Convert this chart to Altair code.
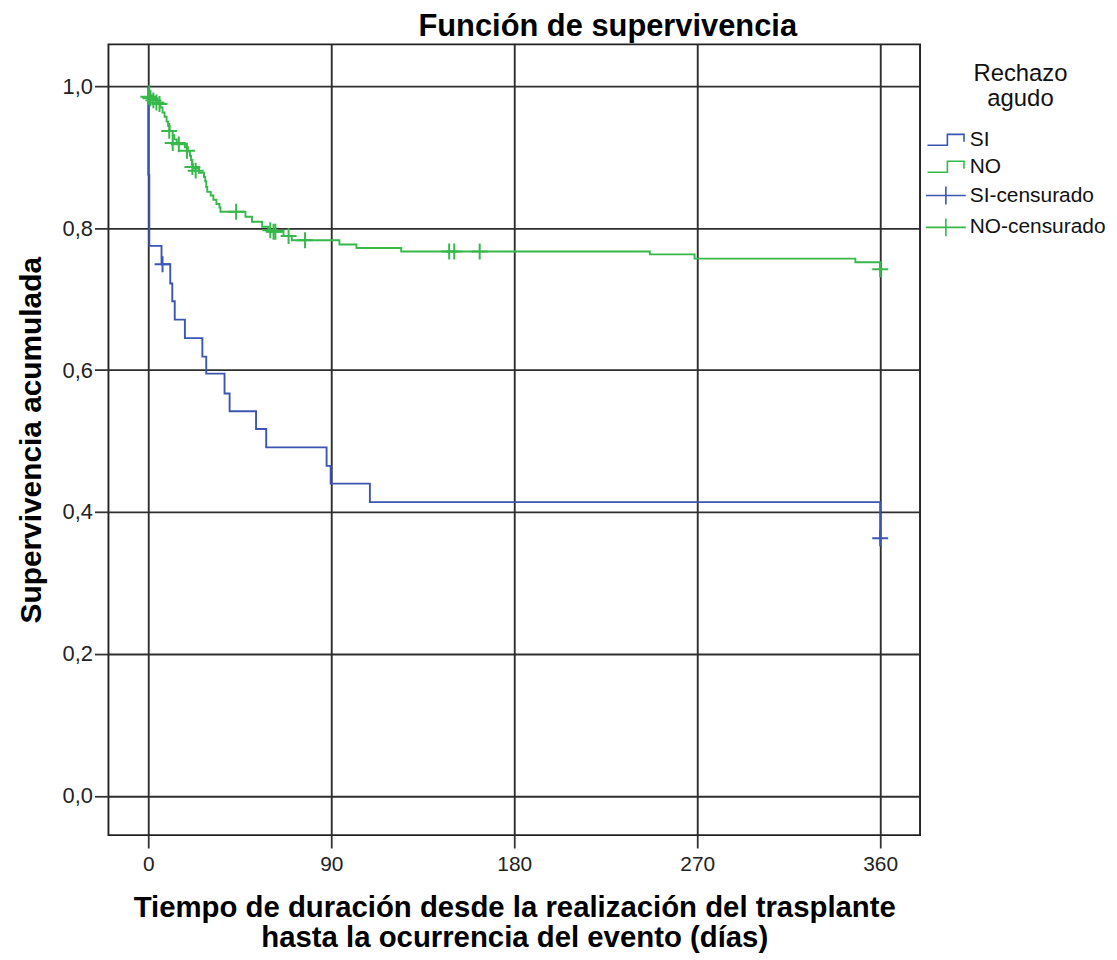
import altair as alt
import pandas as pd

BLUE = "#3b55b3"
GREEN = "#36b84b"
FONT = "Liberation Sans"

# ---- data ----
legend_items = ["SI", "NO", "SI-censurado", "NO-censurado"]

si_time = [0, 0, 0.5, 6.5, 10.8, 11.8, 13, 18, 26.6, 28.5, 37.5, 40, 53, 58, 87.7, 89.7, 109, 360]
si_surv = [1.0, 0.875, 0.775, 0.749, 0.722, 0.697, 0.671, 0.645, 0.619, 0.595, 0.567, 0.542,
           0.517, 0.491, 0.465, 0.440, 0.414, 0.363]

no_time = [0, 0.5, 1, 2, 4.5, 6, 7, 8, 9, 9.7, 10.5, 12, 12.8, 14, 18, 19.5, 20.5, 21, 21.5, 22,
           25, 27.4, 28, 28.5, 29, 30.7, 32, 33.5, 35, 35.5, 47.8, 51, 56, 59, 66.5, 70.6, 94,
           102.4, 124.4, 246.7, 268.7, 347.8, 360]
no_surv = [1.0, 0.993, 0.987, 0.982, 0.976, 0.970, 0.963, 0.957, 0.950, 0.944, 0.937, 0.931,
           0.925, 0.920, 0.914, 0.908, 0.902, 0.896, 0.890, 0.884, 0.878, 0.872, 0.866, 0.858,
           0.851, 0.846, 0.840, 0.834, 0.829, 0.823, 0.816, 0.809, 0.802, 0.796, 0.789, 0.783,
           0.777, 0.772, 0.767, 0.763, 0.757, 0.752, 0.742]

si_cens_time = [7, 360]
si_cens_surv = [0.749, 0.363]

no_cens_time = [0, 1, 2.5, 4, 5.5, 10.3, 12, 15, 19, 21.7, 23.3, 43.2, 60, 61.6, 62.5, 69, 77.1,
                148, 150.5, 163, 360]
no_cens_surv = [0.985, 0.983, 0.980, 0.977, 0.975, 0.937, 0.920, 0.918, 0.909, 0.886, 0.881,
                0.823, 0.797, 0.795, 0.795, 0.789, 0.783, 0.767, 0.767, 0.767, 0.742]

x_ticks = [0, 90, 180, 270, 360]
y_ticks = [0.0, 0.2, 0.4, 0.6, 0.8, 1.0]

# ---- tables ----
rows = []
for i, (t, s) in enumerate(zip(si_time, si_surv)):
    rows.append({"t": t, "s": s, "leg": "SI", "i": i})
for i, (t, s) in enumerate(zip(no_time, no_surv)):
    rows.append({"t": t, "s": s, "leg": "NO", "i": i})
lines_df = pd.DataFrame(rows)

prow = []
for t, s in zip(si_cens_time, si_cens_surv):
    prow.append({"t": t, "s": s, "leg": "SI-censurado"})
for t, s in zip(no_cens_time, no_cens_surv):
    prow.append({"t": t, "s": s, "leg": "NO-censurado"})
pts_df = pd.DataFrame(prow)

empty_df = pd.DataFrame({"t": pd.Series([], dtype=float), "s": pd.Series([], dtype=float),
                         "leg": pd.Series([], dtype=str)})

STEP = "M-1.85,0.55L0.15,0.55L0.15,-0.55L1.82,-0.55L1.82,0.2"
CROSS_LEG = "M-2,0L2,0M0,-0.9L0,0.9"
CROSS = "M-1,0L1,0M0,-1L0,1"

legend = alt.Legend(
    title=["Rechazo", "agudo"],
    orient="none",
    legendX=831,
    legendY=18,
    padding=0,
    titleFont=FONT,
    titleFontSize=24,
    titleFontWeight="normal",
    titleColor="#111",
    titleAnchor="middle",
    titleAlign="center",
    titleLineHeight=25,
    titlePadding=18,
    labelFont=FONT,
    labelFontSize=21,
    labelColor="#111",
    labelOffset=13,
    labelLimit=300,
    symbolSize=400,
    symbolStrokeWidth=1.6,
    symbolOpacity=1,
    symbolFillColor="transparent",
    rowPadding=6,
)

color = alt.Color(
    "leg:N",
    scale=alt.Scale(domain=legend_items, range=[BLUE, GREEN, BLUE, GREEN]),
    legend=legend,
)
shape = alt.Shape(
    "leg:N",
    scale=alt.Scale(domain=legend_items, range=[STEP, STEP, CROSS_LEG, CROSS_LEG]),
    legend=legend,
)

x = alt.X(
    "t:Q",
    scale=alt.Scale(domain=[-19.6, 379.6], nice=False, zero=False),
    axis=alt.Axis(
        values=x_ticks,
        title=["Tiempo de duración desde la realización del trasplante",
               "hasta la ocurrencia del evento (días)"],
        titleFont=FONT, titleFontSize=29.5, titleFontWeight="bold", titleColor="#000",
        titleLineHeight=30, titlePadding=19,
        labelFont=FONT, labelFontSize=21, labelColor="#222", labelPadding=6,
        tickSize=13, tickColor="#333", tickWidth=1.8,
        grid=True, gridColor="#2e2e2e", gridWidth=1.9, domain=False,
    ),
)
y = alt.Y(
    "s:Q",
    scale=alt.Scale(domain=[-0.0552, 1.0589], nice=False, zero=False),
    axis=alt.Axis(
        values=y_ticks,
        labelExpr="replace(format(datum.value, '.1f'), '.', ',')",
        title="Supervivencia acumulada",
        titleFont=FONT, titleFontSize=30, titleFontWeight="bold", titleColor="#000",
        titlePadding=16,
        labelFont=FONT, labelFontSize=22, labelColor="#222", labelPadding=2,
        tickSize=14, tickColor="#333", tickWidth=1.8,
        grid=True, gridColor="#2e2e2e", gridWidth=1.9, domain=False,
    ),
)

lines = alt.Chart(lines_df).mark_line(interpolate="step-after", strokeWidth=1.9).encode(
    x=x, y=y, color=color, order=alt.Order("i:Q")
)
points = alt.Chart(pts_df).mark_point(shape=CROSS, size=256, filled=False, strokeWidth=2, opacity=1).encode(
    x=x, y=y, color=color
)
legend_layer = alt.Chart(empty_df).mark_point(filled=False, opacity=1, strokeWidth=1.6).encode(
    x=x, y=y, color=color, shape=shape
)

chart = alt.layer(lines, points, legend_layer).properties(
    width=816,
    height=795,
    background="white",
    title=alt.TitleParams(
        "Función de supervivencia",
        font=FONT, fontSize=31, fontWeight="bold", color="#000",
        anchor="middle", dx=94, offset=1,
    ),
    autosize=alt.AutoSizeParams(type="none"),
    padding={"left": 101, "top": 34, "right": 190, "bottom": 117},
).configure_view(stroke="#222", strokeWidth=1.9)

chart.save("out.html", embed_options={"renderer": "svg", "actions": False})
